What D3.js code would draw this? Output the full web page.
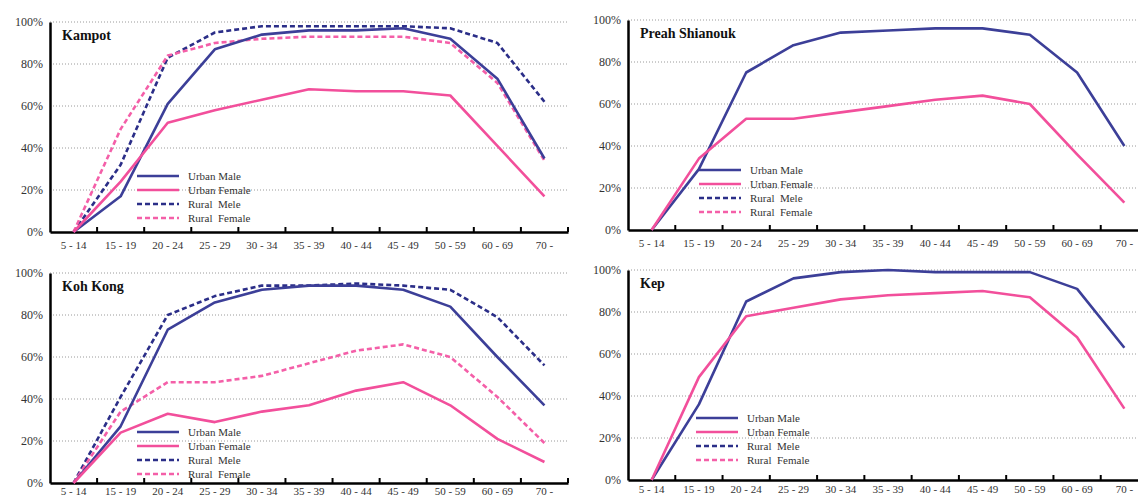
<!DOCTYPE html>
<html>
<head>
<meta charset="utf-8">
<script src="https://cdn.jsdelivr.net/npm/d3@7/dist/d3.min.js"></script>
<style>
  body { margin: 0; background: #fff; }
  svg { display: block; }
  text { font-family: "Liberation Serif", "DejaVu Serif", serif; }
</style>
</head>
<body>
<div id="chart-area"></div>
<script>

// age groups on the x axis
var ageGroups = ["5 - 14", "15 - 19", "20 - 24", "25 - 29", "30 - 34", "35 - 39",
                 "40 - 44", "45 - 49", "50 - 59", "60 - 69", "70 -"];
var yTicks = [0, 20, 40, 60, 80, 100];
var seriesNames = ["Urban Male", "Urban Female", "Rural  Mele", "Rural  Female"];

// Kampot
var kampotUrbanMale    = [0, 17, 61, 87, 94, 96, 96, 97, 92, 73, 35];
var kampotUrbanFemale  = [0, 24, 52, 58, 63, 68, 67, 67, 65, 41, 17];
var kampotRuralMale    = [0, 32, 83, 95, 98, 98, 98, 98, 97, 90, 62];
var kampotRuralFemale  = [0, 49, 84, 90, 92, 93, 93, 93, 90, 71, 34];

// Preah Shianouk (urban only)
var preahUrbanMale     = [0, 29, 75, 88, 94, 95, 96, 96, 93, 75, 40];
var preahUrbanFemale   = [0, 34, 53, 53, 56, 59, 62, 64, 60, 36, 13];

// Koh Kong
var kohkongUrbanMale   = [0, 27, 73, 86, 92, 94, 94, 92, 84, 60, 37];
var kohkongUrbanFemale = [0, 24, 33, 29, 34, 37, 44, 48, 37, 21, 10];
var kohkongRuralMale   = [0, 41, 80, 89, 94, 94, 95, 94, 92, 79, 56];
var kohkongRuralFemale = [0, 34, 48, 48, 51, 57, 63, 66, 60, 41, 19];

// Kep (urban only)
var kepUrbanMale       = [0, 36, 85, 96, 99, 100, 99, 99, 99, 91, 63];
var kepUrbanFemale     = [0, 49, 78, 82, 86, 88, 89, 90, 87, 68, 34];

var serif = "'Liberation Serif', 'DejaVu Serif', serif";

var styles = [
    { color: "#3c3f98", dash: null },
    { color: "#f24f9b", dash: null },
    { color: "#2b2e88", dash: "5,3" },
    { color: "#f45fa8", dash: "5,3" }
];

var panels = [
    { title: "Kampot", left: 50, right: 568, top: 22, bottom: 232, pad: 9,
      lines: [kampotUrbanMale, kampotUrbanFemale, kampotRuralMale, kampotRuralFemale],
      legendX: 137, legendY: 176 },
    { title: "Preah Shianouk", left: 628, right: 1148, top: 20, bottom: 230, pad: 9,
      lines: [preahUrbanMale, preahUrbanFemale, null, null],
      legendX: 699, legendY: 170 },
    { title: "Koh Kong", left: 50, right: 568, top: 273, bottom: 483, pad: 4,
      lines: [kohkongUrbanMale, kohkongUrbanFemale, kohkongRuralMale, kohkongRuralFemale],
      legendX: 137, legendY: 432 },
    { title: "Kep", left: 628, right: 1148, top: 270, bottom: 480, pad: 5,
      lines: [kepUrbanMale, kepUrbanFemale, null, null],
      legendX: 696, legendY: 418 }
];

var svg = d3.select("#chart-area")
    .append("svg")
        .attr("width", 1138)
        .attr("height", 497);

panels.forEach(function(p) {

    var x = d3.scaleBand()
        .domain(ageGroups)
        .range([p.left, p.right]);

    var y = d3.scaleLinear()
        .domain([0, 100])
        .range([p.bottom, p.top]);

    var g = svg.append("g");

    // dotted grid lines
    g.selectAll(".grid")
        .data(yTicks.filter(function(d) { return d > 0; }))
        .enter()
        .append("line")
            .attr("x1", p.left)
            .attr("x2", p.right)
            .attr("y1", function(d) { return y(d); })
            .attr("y2", function(d) { return y(d); })
            .attr("stroke", "#9a9a9a")
            .attr("stroke-width", 1)
            .attr("stroke-dasharray", "1,2");

    // y axis
    var yAxis = g.append("g")
        .attr("transform", "translate(" + p.left + ",0)")
        .call(d3.axisLeft(y).tickValues(yTicks).tickSize(0).tickPadding(7)
            .tickFormat(function(d) { return d + "%"; }));
    yAxis.attr("font-family", serif);
    yAxis.select(".domain").attr("stroke", "#000").attr("stroke-width", 2.5);
    yAxis.selectAll("text")
        .attr("font-size", 12)
        .attr("fill", "#333");

    // x axis, ticks pointing up at band edges
    var xAxis = g.append("g")
        .attr("transform", "translate(0," + p.bottom + ")")
        .call(d3.axisBottom(x).tickSize(0).tickPadding(p.pad));
    xAxis.attr("font-family", serif);
    xAxis.select(".domain").attr("stroke", "#000").attr("stroke-width", 2.5);
    xAxis.selectAll("text")
        .attr("font-size", 11)
        .attr("fill", "#333");

    g.selectAll(".xtick")
        .data(ageGroups)
        .enter()
        .append("line")
            .attr("x1", function(d, i) { return p.left + (i + 1) * x.bandwidth(); })
            .attr("x2", function(d, i) { return p.left + (i + 1) * x.bandwidth(); })
            .attr("y1", p.bottom)
            .attr("y2", p.bottom - 5)
            .attr("stroke", "#000")
            .attr("stroke-width", 2);

    // series lines
    var line = d3.line()
        .x(function(d, i) { return x(ageGroups[i]) + x.bandwidth() / 2; })
        .y(function(d) { return y(d); });

    // draw rural first so urban sits on top
    [2, 3, 0, 1].forEach(function(k) {
        if (!p.lines[k]) return;
        g.append("path")
            .datum(p.lines[k])
            .attr("d", line)
            .attr("fill", "none")
            .attr("stroke", styles[k].color)
            .attr("stroke-width", 2.6)
            .attr("stroke-dasharray", styles[k].dash)
            .attr("stroke-linejoin", "round");
    });

    // title
    g.append("text")
        .attr("x", p.left + 12)
        .attr("y", p.top + 18)
        .attr("font-family", serif)
        .attr("font-size", 14)
        .attr("font-weight", "bold")
        .attr("fill", "#111")
        .text(p.title);

    // legend
    var legend = g.selectAll(".legend")
        .data(seriesNames)
        .enter()
        .append("g")
            .attr("transform", function(d, i) {
                return "translate(" + p.legendX + "," + (p.legendY + i * 14) + ")";
            });

    legend.append("line")
        .attr("x1", 0)
        .attr("x2", 42)
        .attr("stroke", function(d, i) { return styles[i].color; })
        .attr("stroke-width", 2.6)
        .attr("stroke-dasharray", function(d, i) { return styles[i].dash; });

    legend.append("text")
        .attr("x", 51)
        .attr("y", 4)
        .attr("font-family", serif)
        .attr("font-size", 11)
        .attr("fill", "#333")
        .style("white-space", "pre")
        .text(function(d) { return d; });
});

</script>
</body>
</html>
